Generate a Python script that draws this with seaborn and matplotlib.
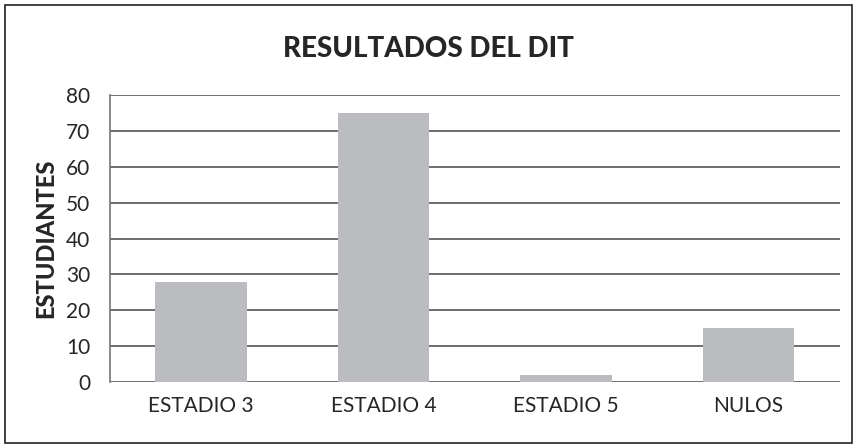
import matplotlib
matplotlib.use("Agg")
import matplotlib.pyplot as plt
import seaborn as sns
import pandas as pd

categories = ["ESTADIO 3", "ESTADIO 4", "ESTADIO 5", "NULOS"]
estudiantes = [28, 75, 2, 15]
y_ticks = [0, 10, 20, 30, 40, 50, 60, 70, 80]

sns.set_style("white")
plt.rcParams['font.family'] = ['Lato', 'DejaVu Sans']

df = pd.DataFrame({"categoria": categories, "estudiantes": estudiantes})

fig = plt.figure(figsize=(8.57, 4.48), dpi=100)
ax = fig.add_axes([0.128, 0.147, 0.852, 0.641])

sns.barplot(data=df, x="categoria", y="estudiantes", color="#bbbcbf",
            width=0.5, saturation=1, linewidth=0, ax=ax, zorder=3)

ax.set_ylim(0, 80)
ax.set_yticks(y_ticks)
ax.yaxis.grid(True, color="#555555", linewidth=1.2, zorder=0)
ax.set_axisbelow(True)
for s in ["top", "right", "bottom"]:
    ax.spines[s].set_visible(False)
ax.spines["left"].set_color("#777777")
ax.spines["left"].set_linewidth(1.2)
ax.tick_params(axis="y", length=10, width=1.2, color="#555555", labelsize=15, pad=4)
ax.tick_params(axis="x", length=0, labelsize=15, pad=10)
ax.set_xlabel("")
ax.set_ylabel("ESTUDIANTES", fontsize=17, fontweight="black", labelpad=6)
fig.text(0.5, 0.89, "RESULTADOS DEL DIT", ha="center", va="center",
         fontsize=20, fontweight="black")

border = plt.Rectangle((0.006, 0.011), 0.988, 0.978, transform=fig.transFigure,
                       fill=False, edgecolor="#222222", linewidth=1.2)
fig.patches.append(border)

fig.savefig("out.png", dpi=100)
